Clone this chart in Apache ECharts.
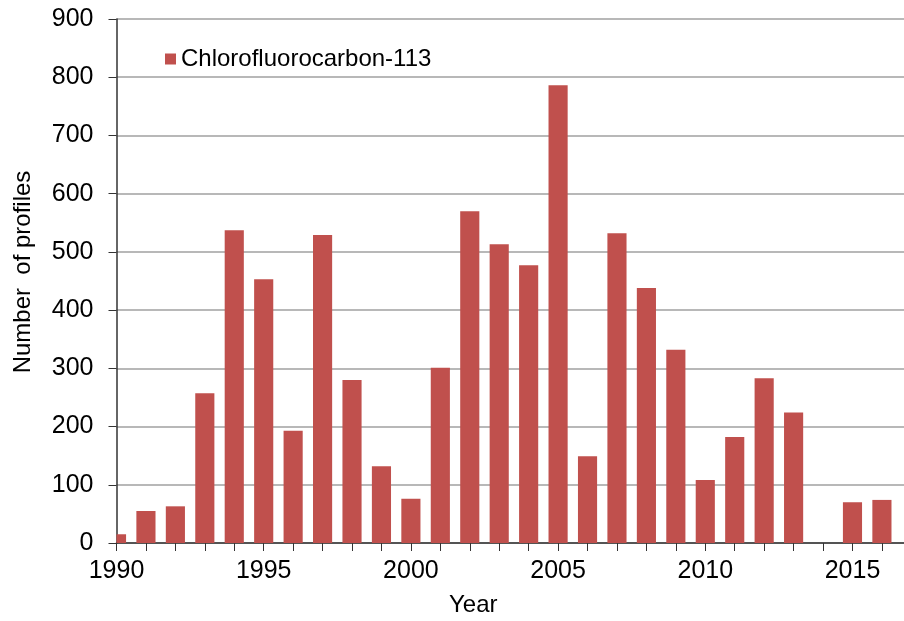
<!DOCTYPE html>
<html>
<head>
<meta charset="utf-8">
<script src="https://cdn.jsdelivr.net/npm/echarts@6/dist/echarts.min.js"></script>
<style>
  html, body { margin: 0; padding: 0; background: #fff; }
  #chart { width: 904px; height: 621px; }
</style>
</head>
<body>
<div id="chart"></div>
<script>
const years = [1990, 1991, 1992, 1993, 1994, 1995, 1996, 1997, 1998, 1999,
               2000, 2001, 2002, 2003, 2004, 2005, 2006, 2007, 2008, 2009,
               2010, 2011, 2012, 2013, 2014, 2015, 2016];
const profiles = [15, 55, 63, 257, 537, 453, 193, 529, 280, 132,
                  76, 301, 570, 513, 477, 786, 149, 532, 438, 332,
                  108, 182, 283, 224, 0, 70, 74];
const seriesName = 'Chlorofluorocarbon-113';

const font = '"Liberation Sans", Arial, sans-serif';
const barColor = '#C0504D';

var myChart = echarts.init(document.getElementById('chart'));

// bars drawn as custom series so the 1990 bar gets cut at the y axis
function renderBar(params, api) {
    var top = api.coord([api.value(0), api.value(1)]);
    var base = api.coord([api.value(0), 0]);
    var w = api.size([0.65, 0])[0];
    var rect = echarts.graphic.clipRectByRect({
        x: top[0] - w / 2,
        y: top[1],
        width: w,
        height: base[1] - top[1]
    }, {
        x: params.coordSys.x,
        y: params.coordSys.y,
        width: params.coordSys.width,
        height: params.coordSys.height
    });
    return rect && {
        type: 'rect',
        shape: rect,
        style: { fill: barColor }
    };
}

var option = {
    animation: false,
    textStyle: { fontFamily: font },
    grid: {
        left: 116.5,
        right: 0,
        top: 19,
        bottom: 78,
        outerBoundsMode: 'none',
        containLabel: false
    },
    legend: {
        left: 160,
        top: 42,
        itemWidth: 11,
        itemHeight: 11,
        itemGap: 8,
        icon: 'rect',
        textStyle: { fontSize: 24, color: '#000', fontFamily: font },
        data: [{ name: seriesName, itemStyle: { color: barColor } }]
    },
    xAxis: {
        type: 'value',
        min: 1990,
        max: 2016.75,
        interval: 1,
        name: 'Year',
        nameLocation: 'middle',
        nameGap: 50,
        nameTextStyle: { fontSize: 24, color: '#000', padding: [0, 74, 0, 0] },
        axisLine: { lineStyle: { color: '#333', width: 1.5 } },
        axisTick: { show: true, inside: false, length: 8, lineStyle: { color: '#333' } },
        axisLabel: {
            fontSize: 25,
            color: '#000',
            margin: 16,
            showMaxLabel: false,
            formatter: function (v) { return v % 5 === 0 ? String(v) : ''; }
        },
        splitLine: { show: false }
    },
    yAxis: {
        type: 'value',
        min: 0,
        max: 900,
        interval: 100,
        name: 'Number  of profiles',
        nameLocation: 'middle',
        nameGap: 81,
        nameTextStyle: { fontSize: 24, color: '#000', padding: [0, 0, 0, 18] },
        axisLine: { show: true, lineStyle: { color: '#333', width: 1.5 } },
        axisTick: { show: true, inside: false, length: 8, lineStyle: { color: '#333' } },
        axisLabel: { fontSize: 25, color: '#000', margin: 23 },
        splitLine: { show: true, lineStyle: { color: '#a0a0a0', width: 1.5 } }
    },
    series: [
        {
            name: seriesName,
            type: 'custom',
            renderItem: renderBar,
            itemStyle: { color: barColor },
            encode: { x: 0, y: 1 },
            data: years.map((y, i) => [y, profiles[i]])
        }
    ]
};

option && myChart.setOption(option);
</script>
</body>
</html>
